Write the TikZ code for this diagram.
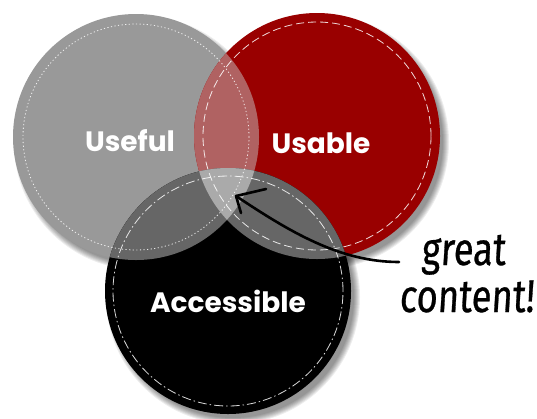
\documentclass[tikz,border=0pt]{standalone}
\usepackage{fontspec}
\setmainfont{Poppins}
\newfontfamily\handfont{Fira Sans}[FakeStretch=0.79,FakeSlant=0.06,FakeBold=0.6]
\usetikzlibrary{arrows.meta}
\definecolor{usefulc}{HTML}{999999}
\definecolor{usablec}{HTML}{990000}
\definecolor{accessc}{HTML}{000000}
\definecolor{uspair}{HTML}{B06262}
\definecolor{grayov}{HTML}{666666}
\definecolor{triple}{HTML}{AAAAAA}
\tikzset{
  lab/.style={text=white,font=\bfseries\fontsize{28}{28}\selectfont,inner sep=0pt},
  hand/.style={text=black,font=\handfont\fontsize{46}{46}\selectfont,inner sep=0pt},
  stitch/.style={draw=white,line width=0.8pt,opacity=0.85},
  pointer/.style={draw=black,line width=2.6pt,line cap=round,line join=round}
}
\def\R{123pt}
\begin{document}
\begin{tikzpicture}[x=1pt,y=-1pt]
\useasboundingbox (0,0) rectangle (537,418);
\fill[white] (0,0) rectangle (537,418);
\coordinate (cU) at (136,137);
\coordinate (cS) at (317,136);
\coordinate (cA) at (228,291);
% soft shadows
\foreach \c in {cU,cS,cA}{
  \foreach \i in {0,...,6}{
    \fill[black,opacity=0.07] ([shift={(5,6)}]\c) circle ({\R+4pt-\i pt});
  }
}
% base circles
\fill[usefulc] (cU) circle (\R);
\fill[usablec] (cS) circle (\R);
\fill[accessc] (cA) circle (\R);
% overlaps
\begin{scope}
  \clip (cU) circle (\R);
  \fill[uspair] (cS) circle (\R);
  \fill[grayov] (cA) circle (\R);
\end{scope}
\begin{scope}
  \clip (cS) circle (\R);
  \fill[grayov] (cA) circle (\R);
\end{scope}
\begin{scope}
  \clip (cU) circle (\R);
  \clip (cS) circle (\R);
  \fill[triple] (cA) circle (\R);
\end{scope}
% stitched inner rings
\draw[stitch,dash pattern=on 1.2pt off 2.4pt] (cU) circle (113pt);
\draw[stitch,dash pattern=on 8pt off 4pt] (cS) circle (114pt);
\draw[stitch,dash pattern=on 9pt off 3pt on 1.5pt off 3pt] (cA) circle (115pt);
% labels
\node[lab] (useful) at (130,141) {Useful};
\node[lab] (usable) at (321,143) {Usable};
\node[lab] (access) at (228,301) {Accessible};
\node[hand,anchor=base west] (great) at (421,265) {great};
\node[hand,anchor=base west] (content) at (399,312) {content!};
% pointer
\coordinate (tail) at (399,262);
\coordinate (tip) at (236,196);
\draw[pointer] (tail) .. controls (340,262) and (290,232) .. (tip);
\draw[pointer] (266,189) -- (tip) -- (241,213);
\end{tikzpicture}
\end{document}
